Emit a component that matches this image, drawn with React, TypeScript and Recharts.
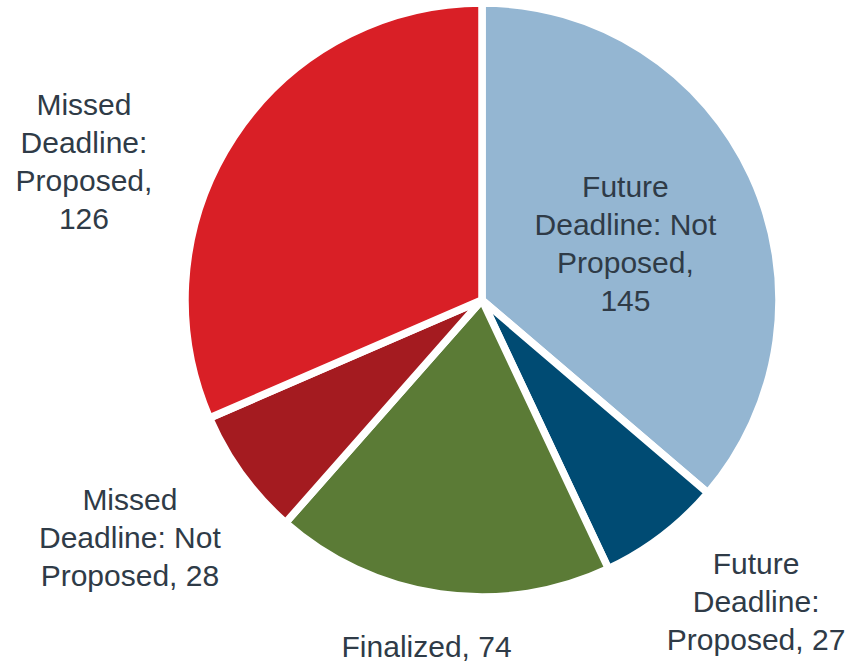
import React from "react";
import { PieChart, Pie, Cell } from "recharts";

const categories = [
  "Future Deadline: Not Proposed",
  "Future Deadline: Proposed",
  "Finalized",
  "Missed Deadline: Not Proposed",
  "Missed Deadline: Proposed",
];
const values = [145, 27, 74, 28, 126];
const colors = ["#94B6D2", "#004B73", "#5B7B36", "#A41B20", "#D91F26"];

const data = categories.map((name, i) => ({ name, value: values[i] }));

// word-group sizes per label line (layout only)
const lineGroups = [[1, 2, 1, 1], [1, 1, 2], [2], [1, 2, 2], [1, 1, 1, 1]];
// radial placement and nudge per label (layout only)
const labelPlace = [
  { r: 0.52, da: -3, dx: 0, dy: 0 },
  { r: 1.37, da: 5, dx: 0, dy: 0 },
  { r: 1.18, da: -1, dx: 0, dy: 0 },
  { r: 1.43, da: -2, dx: 0, dy: 0 },
  { r: 1.42, da: 14, dx: 0, dy: 0 },
];

const RAD = Math.PI / 180;
const FONT = 30;
const LINE = 38;

function renderLabel(props: any) {
  const { cx, cy, midAngle, outerRadius, index, name, value } = props;
  const p = labelPlace[index];
  const ang = (midAngle + p.da) * RAD;
  const r = outerRadius * p.r;
  const x = cx + r * Math.cos(ang) + p.dx;
  const y = cy - r * Math.sin(ang) + p.dy;
  const tokens = [...String(name).split(" ")];
  tokens[tokens.length - 1] = tokens[tokens.length - 1] + ",";
  tokens.push(String(value));
  const lines: string[] = [];
  let k = 0;
  for (const g of lineGroups[index]) {
    lines.push(tokens.slice(k, k + g).join(" "));
    k += g;
  }
  const top = y - ((lines.length - 1) * LINE) / 2;
  return (
    <text
      key={`lbl-${index}`}
      x={x}
      y={top}
      textAnchor="middle"
      dominantBaseline="central"
      fill="#2F3B47"
      fontSize={FONT}
      fontFamily="'Liberation Sans', Arial, sans-serif"
    >
      {lines.map((ln, i) => (
        <tspan key={i} x={x} y={top + i * LINE}>
          {ln}
        </tspan>
      ))}
    </text>
  );
}

export default function App() {
  return (
    <div style={{ position: "absolute", left: 0, top: 0, width: 866, height: 666, background: "#fff" }}>
      <PieChart width={866} height={666} margin={{ top: 0, right: 0, bottom: 0, left: 0 }}>
        <Pie
          data={data}
          dataKey="value"
          nameKey="name"
          cx={482}
          cy={300}
          outerRadius={297}
          startAngle={90}
          endAngle={-270}
          stroke="#ffffff"
          strokeWidth={7.5}
          label={renderLabel}
          labelLine={false}
          isAnimationActive={false}
        >
          {data.map((d, i) => (
            <Cell key={d.name} fill={colors[i]} />
          ))}
        </Pie>
      </PieChart>
    </div>
  );
}
